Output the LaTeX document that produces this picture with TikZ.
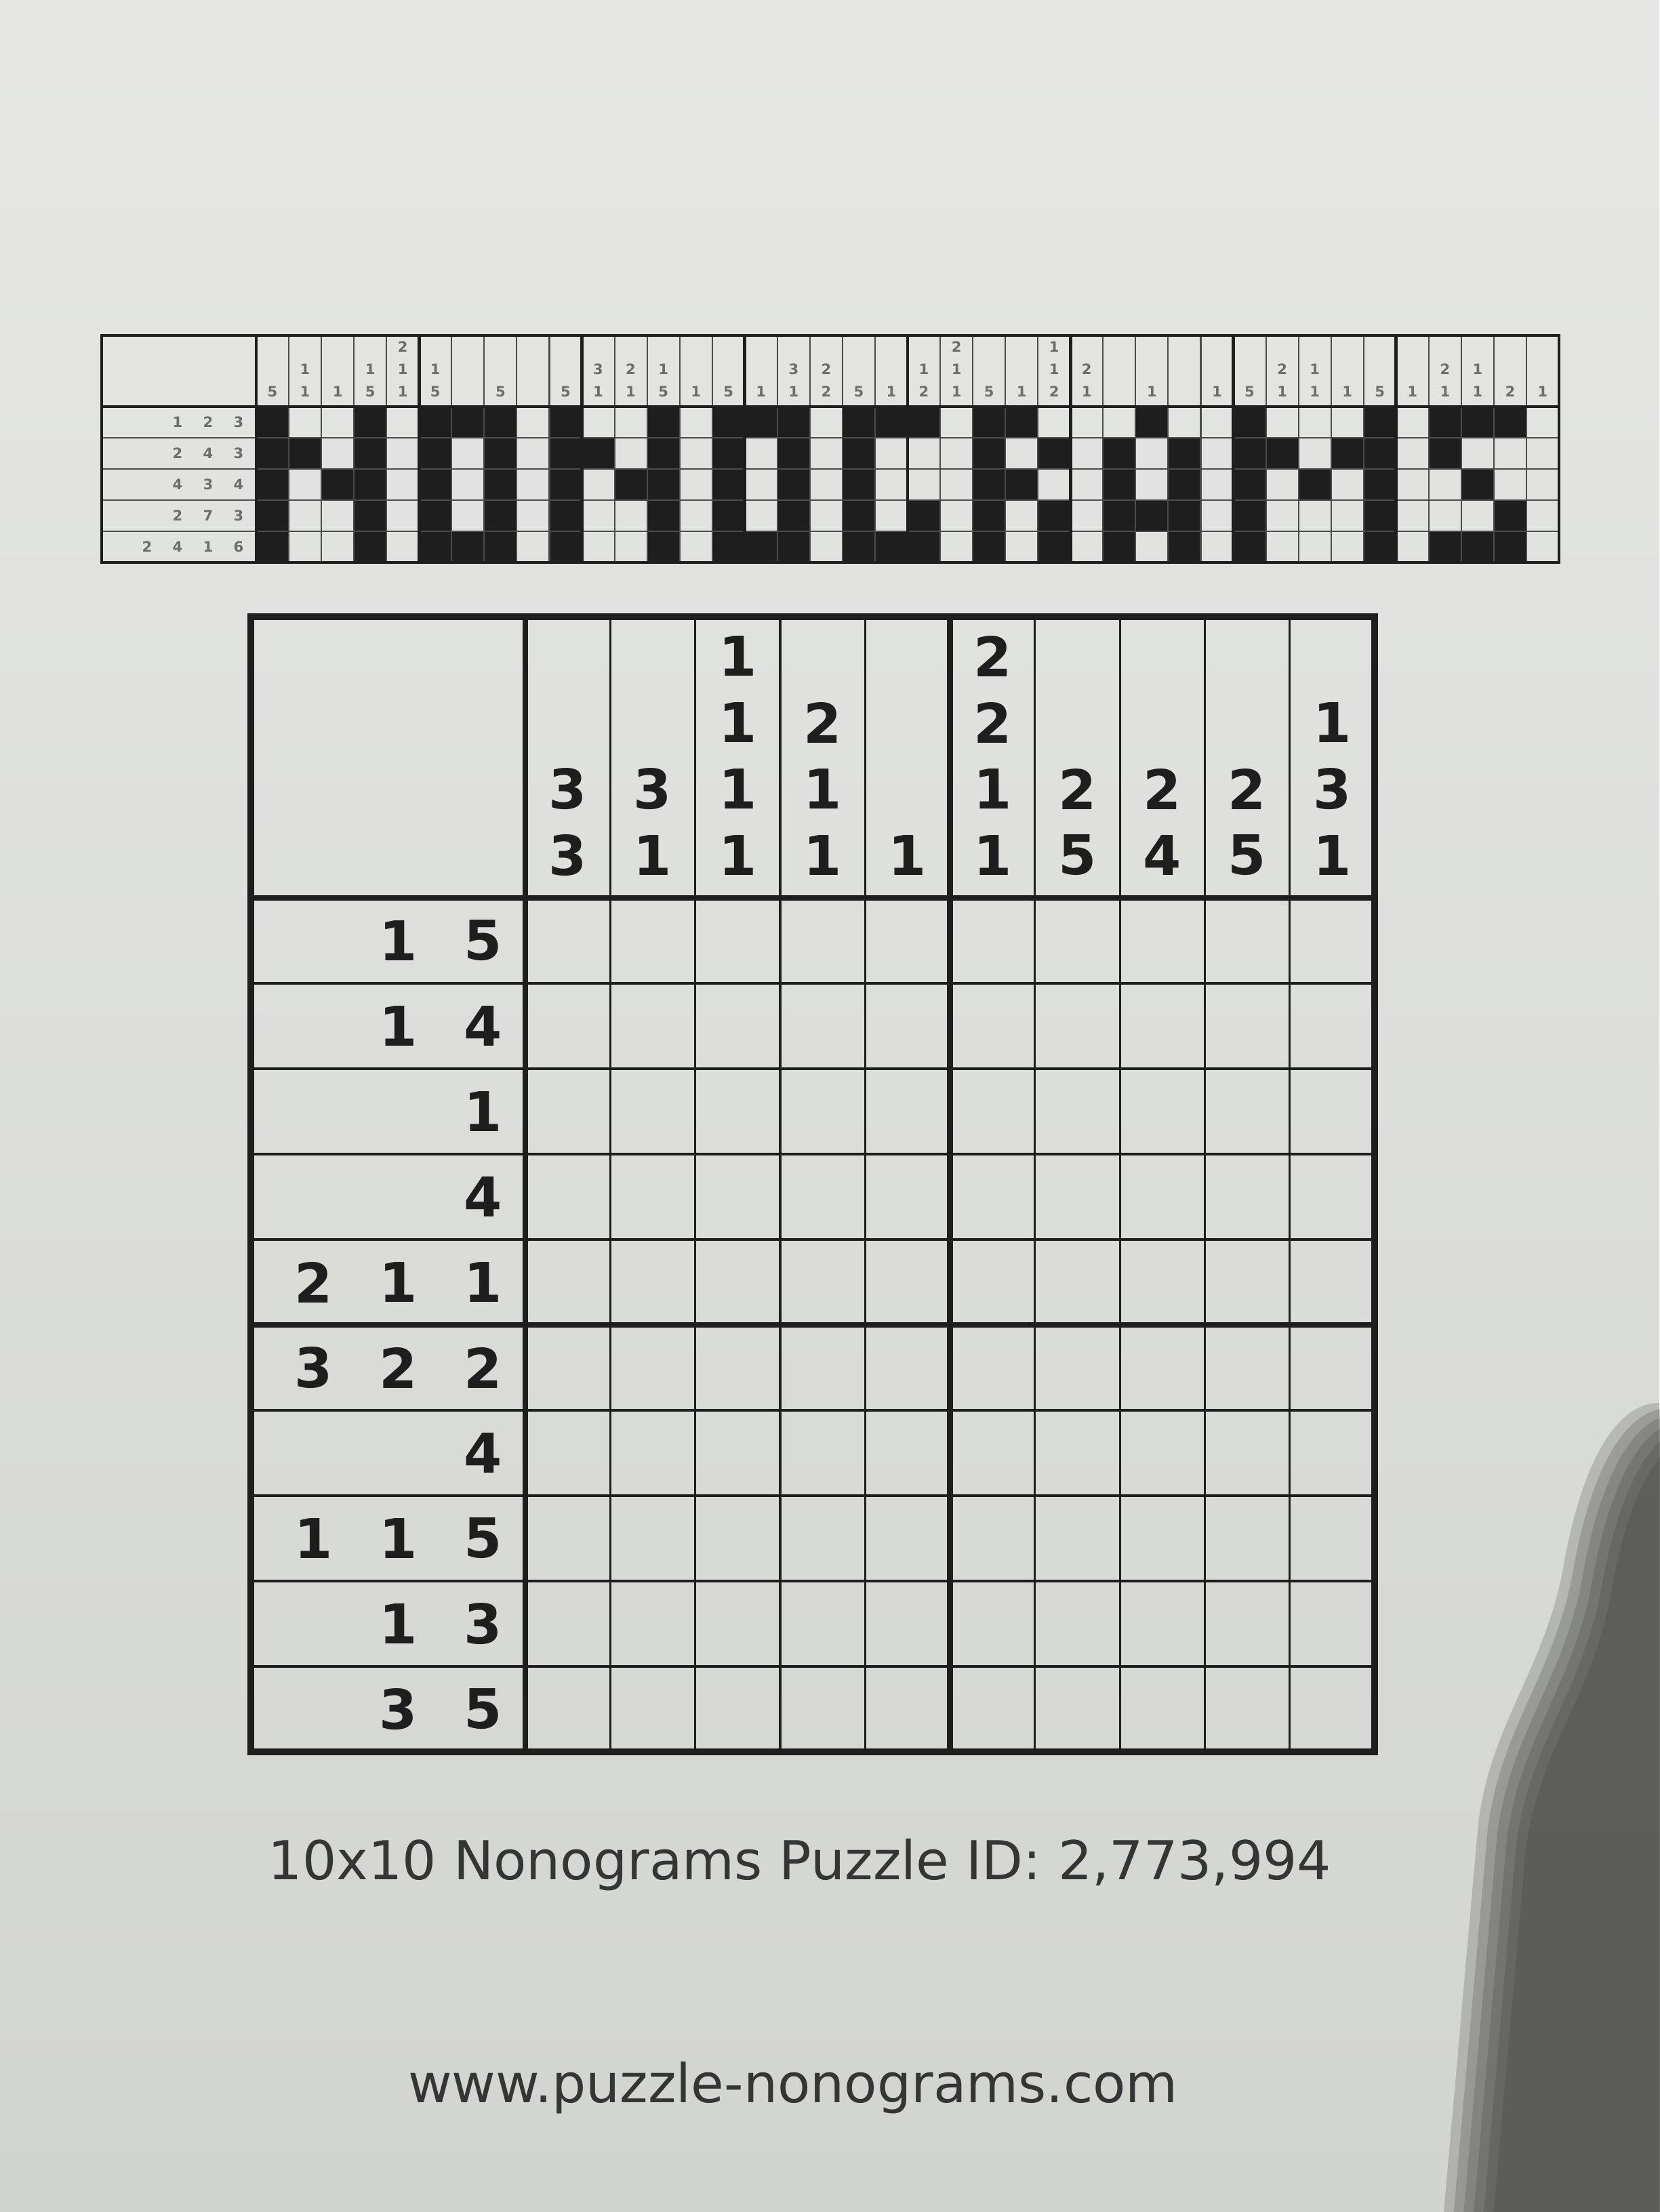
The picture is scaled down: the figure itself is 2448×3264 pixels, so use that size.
\documentclass[tikz,border=0pt]{standalone}
\usepackage{fontspec}
\setmainfont{DejaVu Sans}
\definecolor{paper}{RGB}{210,212,207}
\definecolor{ink}{RGB}{30,30,30}
\definecolor{shadow}{RGB}{60,60,56}
\def\cellw{125.3}
\def\cellh{126}
\def\bcellw{48.05}
\def\bcellh{46}

\begin{document}
\begin{tikzpicture}[x=0.01cm, y=-0.01cm]
        \tikzstyle{thin line}=[draw=ink, line width=0.9pt];
        \tikzstyle{thick line}=[draw=ink, line width=2.3pt];
        \tikzstyle{frame line}=[draw=ink, line width=2.8pt];
        \tikzstyle{banner thin}=[draw=ink!80, line width=0.6pt];
        \tikzstyle{banner thick}=[draw=ink, line width=1.3pt];
        \tikzstyle{clue}=[text=ink, font=\fontsize{23}{26}\selectfont\bfseries, inner sep=0pt];
        \tikzstyle{tiny clue}=[text=ink!65, font=\fontsize{6}{7}\selectfont\bfseries, inner sep=0pt];
        \tikzstyle{pixel}=[fill=ink];
        \tikzstyle{footer}=[text=ink!90, font=\fontsize{22.5}{26}\selectfont, inner sep=0pt];

        % paper and shadow
        \useasboundingbox (0,0) rectangle (2448,3264);
        \shade[top color=paper!55!white, bottom color=paper] (0,0) rectangle (2448,3264);
        \foreach \d in {0,...,5}
            \fill[shadow, opacity=0.22, shift={({\d*14},{\d*8})}]
                (2448,2070) .. controls (2380,2070) and (2330,2170) .. (2305,2320)
                .. controls (2275,2470) and (2195,2550) .. (2180,2700)
                -- (2130,3264) -- (2448,3264) -- cycle;

        % banner pixels
        \foreach \c / \rows in {1/{1,2,3,4,5}, 2/{2}, 3/{3}, 4/{1,2,3,4,5},
                6/{1,2,3,4,5}, 7/{1,5}, 8/{1,2,3,4,5},
                10/{1,2,3,4,5}, 11/{2}, 12/{3}, 13/{1,2,3,4,5},
                15/{1,2,3,4,5}, 16/{1,5}, 17/{1,2,3,4,5},
                19/{1,2,3,4,5}, 20/{1,5}, 21/{1,4,5},
                23/{1,2,3,4,5}, 24/{1,3}, 25/{2,4,5},
                27/{2,3,4,5}, 28/{1,4}, 29/{2,3,4,5},
                31/{1,2,3,4,5}, 32/{2}, 33/{3}, 34/{2}, 35/{1,2,3,4,5},
                37/{1,2,5}, 38/{1,3,5}, 39/{1,4,5}}
            \foreach \r in \rows
                \fill[pixel] ({378+(\c-1)*\bcellw}, {600+(\r-1)*\bcellh}) rectangle +(\bcellw, \bcellh);
        % banner grid
        \foreach \i in {1,...,39}
            \draw[banner thin] ({378+\i*\bcellw}, 495) -- ({378+\i*\bcellw}, 830);
        \foreach \j in {1,...,4}
            \draw[banner thin] (150, {600+\j*\bcellh}) -- (2300, {600+\j*\bcellh});
        \foreach \i in {5,10,...,35}
            \draw[banner thick] ({378+\i*\bcellw}, 495) -- ({378+\i*\bcellw}, 830);
        \draw[banner thick] (378, 495) -- (378, 830);
        \draw[banner thick] (150, 600) -- (2300, 600);
        \draw[banner thick] (150, 495) rectangle (2300, 830);
        % banner clues
        \foreach \c / \list in {1/{5}, 2/{1,1}, 3/{1}, 4/{5,1}, 5/{1,1,2}, 6/{5,1}, 8/{5}, 10/{5},
                11/{1,3}, 12/{1,2}, 13/{5,1}, 14/{1}, 15/{5}, 16/{1}, 17/{1,3}, 18/{2,2},
                19/{5}, 20/{1}, 21/{2,1}, 22/{1,1,2}, 23/{5}, 24/{1}, 25/{2,1,1}, 26/{1,2},
                28/{1}, 30/{1}, 31/{5}, 32/{1,2}, 33/{1,1}, 34/{1}, 35/{5}, 36/{1},
                37/{1,2}, 38/{1,1}, 39/{2}, 40/{1}}
            \foreach \v [count=\k] in \list
                \node[tiny clue] (bC-\c-\k) at ({378+(\c-0.5)*\bcellw}, {578-(\k-1)*33}) {\v};
        \foreach \r / \list in {1/{3,2,1}, 2/{3,4,2}, 3/{4,3,4}, 4/{3,7,2}, 5/{6,1,4,2}}
            \foreach \v [count=\k] in \list
                \node[tiny clue] (bR-\r-\k) at ({352-(\k-1)*45}, {600+(\r-0.5)*\bcellh}) {\v};

        % column clues
        \foreach \c / \list in {1/{3,3}, 2/{1,3}, 3/{1,1,1,1}, 4/{1,1,2}, 5/{1},
                6/{1,1,2,2}, 7/{5,2}, 8/{4,2}, 9/{5,2}, 10/{1,3,1}}
            \foreach \v [count=\k] in \list
                \node[clue] (C-\c-\k) at ({775+(\c-0.5)*\cellw}, {1262-(\k-1)*98}) {\v};
        % row clues
        \foreach \r / \list in {1/{5,1}, 2/{4,1}, 3/{1}, 4/{4}, 5/{1,1,2},
                6/{2,2,3}, 7/{4}, 8/{5,1,1}, 9/{3,1}, 10/{5,3}}
            \foreach \v [count=\k] in \list
                \node[clue] (R-\r-\k) at ({713-(\k-1)*125}, {1325+(\r-0.5)*\cellh}) {\v};

        % puzzle grid
        \foreach \i in {1,...,9}
            \draw[thin line] ({775+\i*\cellw}, 910) -- ({775+\i*\cellw}, 2585);
        \foreach \j in {1,...,9}
            \draw[thin line] (370, {1325+\j*\cellh}) -- (2028, {1325+\j*\cellh});
        \draw[thick line] (775, 910) -- (775, 2585);
        \draw[thick line] ({775+5*\cellw}, 910) -- ({775+5*\cellw}, 2585);
        \draw[thick line] (370, 1325) -- (2028, 1325);
        \draw[thick line] (370, {1325+5*\cellh}) -- (2028, {1325+5*\cellh});
        \draw[frame line] (370, 910) rectangle (2028, 2585);

        % footer
        \node[footer] (id) at (1180, 2752) {10x10 Nonograms Puzzle ID: 2,773,994};
        \node[footer] (url) at (1170, 3081) {www.puzzle-nonograms.com};
\end{tikzpicture}
\end{document}
